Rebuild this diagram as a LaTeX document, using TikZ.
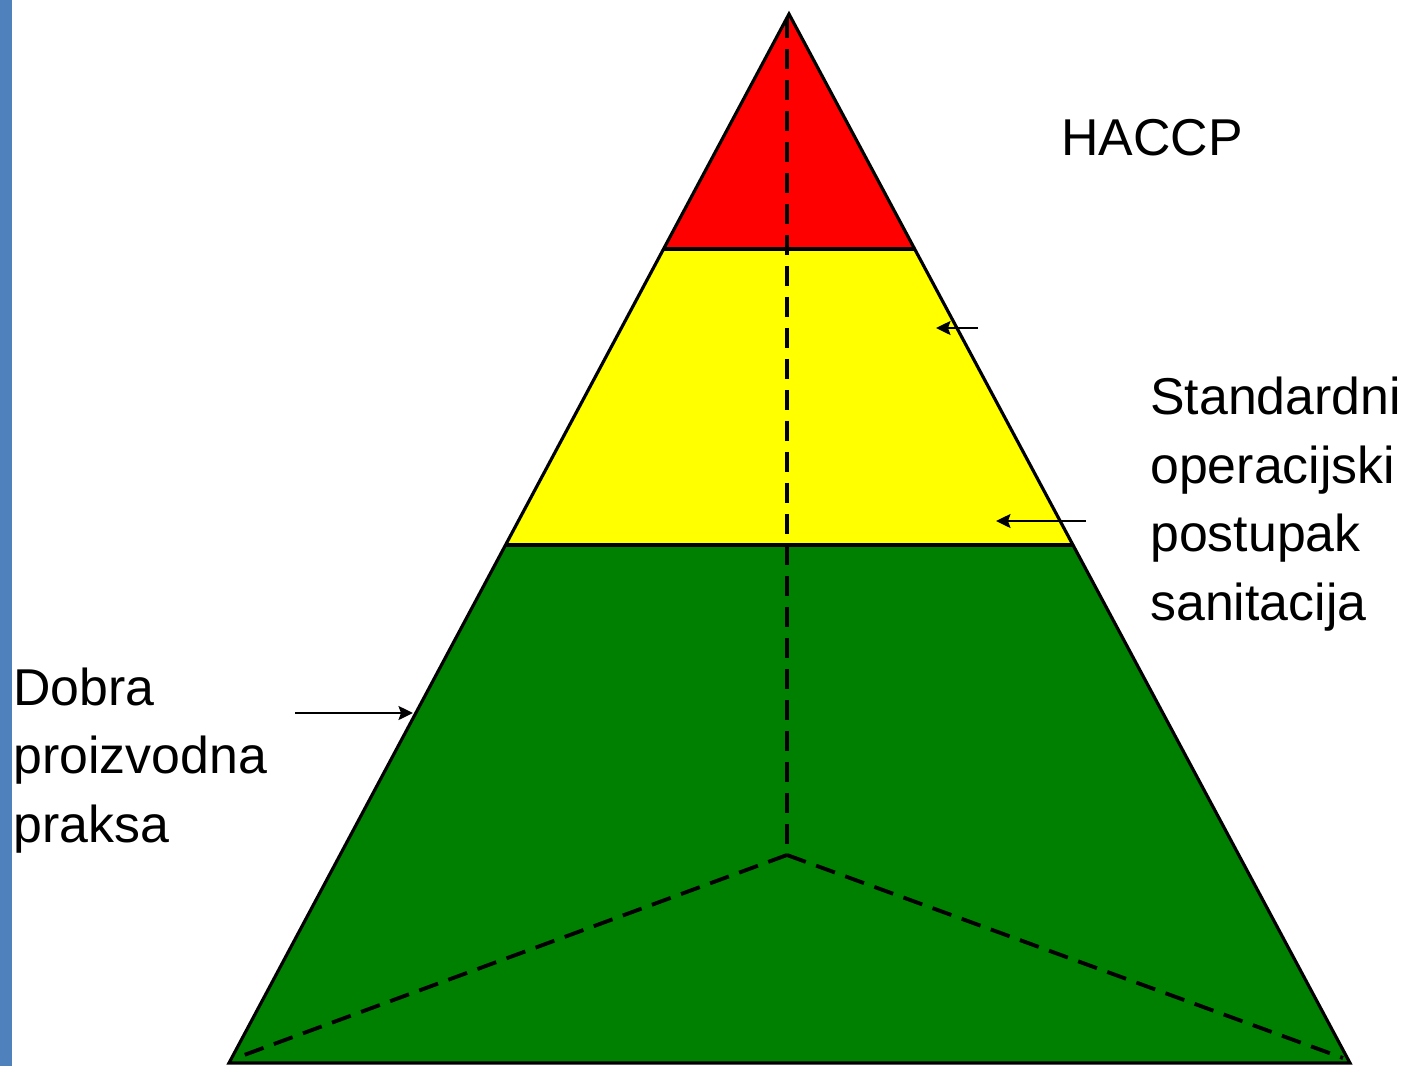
\documentclass[tikz,border=0pt]{standalone}
\usepackage{fontspec}
\setmainfont{Liberation Sans}
\usetikzlibrary{arrows.meta,calc}
\definecolor{stripblue}{HTML}{4F81BD}
\definecolor{pgreen}{HTML}{008000}
\definecolor{pred}{HTML}{FF0000}
\definecolor{pyellow}{HTML}{FFFF00}
\tikzset{
  edge/.style={draw=black, line width=1.8pt, line join=miter},
  divider/.style={draw=black, line width=2.2pt},
  hidden/.style={draw=black, line width=2.2pt, dash pattern=on 0.4cm off 0.22cm},
  pointer/.style={draw=black, line width=1.1pt, -{Stealth[length=0.29cm,width=0.28cm,inset=0.05cm]}},
  label/.style={font=\fontsize{29.5}{38.9}\selectfont, anchor=base west, inner sep=0pt, align=left}
}
\begin{document}
\begin{tikzpicture}[x=0.02cm, y=-0.02cm]
\useasboundingbox (0,0) rectangle (1418,1066);
\fill[white] (0,0) rectangle (1418,1066);
\fill[stripblue] (0,0) rectangle (12,1066);
% pyramid points
\coordinate (apex) at (789,14);
\coordinate (bl) at (229,1063);
\coordinate (br) at (1350,1063);
\coordinate (rl) at ($(apex)!0.22402!(bl)$);
\coordinate (rr) at ($(apex)!0.22402!(br)$);
\coordinate (yl) at ($(apex)!0.50620!(bl)$);
\coordinate (yr) at ($(apex)!0.50620!(br)$);
% bands
\fill[pred] (apex) -- (rr) -- (rl) -- cycle;
\fill[pyellow] (rl) -- (rr) -- (yr) -- (yl) -- cycle;
\fill[pgreen] (yl) -- (yr) -- (br) -- (bl) -- cycle;
% hidden edges
\coordinate (back) at (787,855);
\coordinate (blin) at (236,1058);
\coordinate (brin) at (1343,1058);
\draw[hidden] (787,18) -- (back);
\draw[hidden] (back) -- (blin);
\draw[hidden] (back) -- (brin);
% dividers
\draw[divider] (rl) -- (rr);
\draw[divider] (yl) -- (yr);
% outline
\draw[edge] (apex) -- (br) -- (bl) -- cycle;
% labels (base anchor = baseline of the last line)
\node[label] (haccp) at (1061,155) {HACCP};
\node[label] (sop) at (1150,620) {Standardni\\operacijski\\postupak\\sanitacija};
\node[label] (gmp) at (13,842) {Dobra\\proizvodna\\praksa};
% arrows
\coordinate (a1s) at (978,328);
\coordinate (a1e) at (936,328);
\coordinate (a2s) at (1086,521);
\coordinate (a2e) at (996,521);
\coordinate (a3s) at (295,713);
\coordinate (a3e) at (413,713);
\draw[pointer] (a1s) -- (a1e);
\draw[pointer] (a2s) -- (a2e);
\draw[pointer] (a3s) -- (a3e);
\end{tikzpicture}
\end{document}
